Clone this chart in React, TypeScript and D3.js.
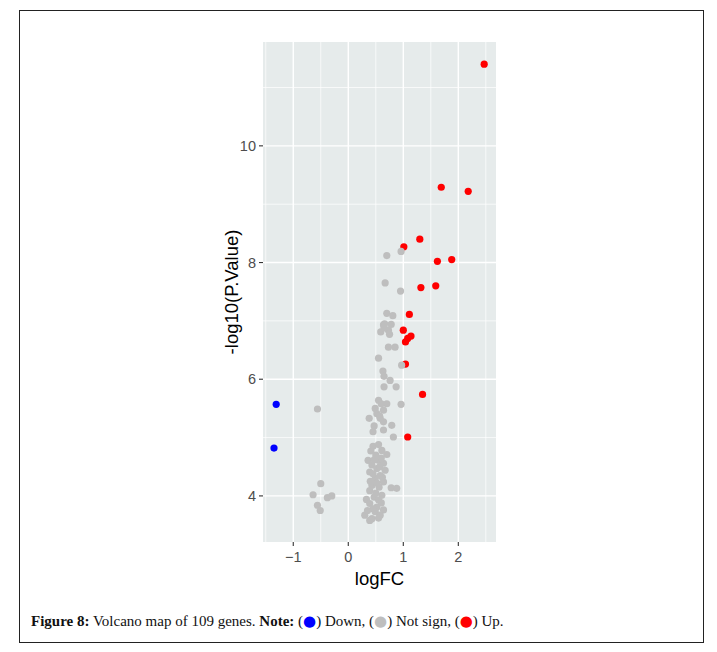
import React from 'react';
import * as d3 from 'd3';

// Volcano plot values
const upX = [2.47, 1.69, 2.18, 1.30, 1.01, 1.62, 1.88, 1.32, 1.59, 1.11, 1.00, 1.14, 1.04, 1.08, 1.04, 1.35, 1.08];
const upY = [11.40, 9.29, 9.22, 8.40, 8.27, 8.02, 8.05, 7.57, 7.60, 7.11, 6.84, 6.74, 6.64, 6.70, 6.26, 5.74, 5.01];

const downX = [-1.31, -1.35];
const downY = [5.57, 4.82];

const nsX = [
  0.70, 0.96, 0.67, 0.95, 0.70, 0.81, 0.64, 0.78, 0.59, 0.73, 0.75, 0.65, 0.73, 0.85, 0.55, 0.97,
  0.63, 0.65, 0.76, 0.65, 0.87, 0.55, 0.70, 0.96, 0.49, 0.64, 0.52, 0.38, 0.58, 0.64, 0.79, 0.45,
  0.64, 0.82, -0.56,
  0.41, 0.61, 0.70, 0.36, 0.55, 0.64, 0.43, 0.52, 0.67, 0.39, 0.58, 0.49, 0.64, 0.43, 0.56, 0.78,
  0.88, 0.39, 0.61, 0.47, 0.33, 0.55, 0.39, 0.52, 0.64, 0.49, 0.30, 0.58, 0.43, 0.39,
  -0.50, -0.64, -0.38, -0.30, -0.56, -0.51,
  0.45, 0.55, 0.50, 0.60, 0.47, 0.57, 0.45, 0.62, 0.52, 0.40, 0.50, 0.60, 0.45, 0.55, 0.35,
  0.57, 0.60, 0.47, 0.66,
];
const nsY = [
  8.12, 8.19, 7.65, 7.51, 7.13, 7.09, 6.93, 6.94, 6.81, 6.84, 6.77, 6.88, 6.55, 6.55, 6.36, 6.24,
  6.14, 6.05, 5.98, 5.87, 5.87, 5.64, 5.58, 5.57, 5.50, 5.47, 5.41, 5.33, 5.33, 5.27, 5.21, 5.10,
  5.13, 5.01, 5.49,
  4.77, 4.78, 4.71, 4.61, 4.61, 4.56, 4.53, 4.47, 4.44, 4.41, 4.35, 4.30, 4.24, 4.18, 4.15, 4.14,
  4.13, 4.09, 4.01, 3.98, 3.94, 3.93, 3.87, 3.81, 3.76, 3.73, 3.67, 3.67, 3.61, 3.58,
  4.21, 4.02, 3.97, 4.00, 3.84, 3.75,
  4.85, 4.88, 4.70, 4.65, 4.62, 4.50, 4.38, 4.32, 4.22, 4.25, 4.05, 3.88, 3.78, 3.62, 3.75,
  5.37, 5.58, 5.20, 6.95,
];

const xTicks = [-1, 0, 1, 2];
const xMinor = [-1.5, -0.5, 0.5, 1.5, 2.5];
const yTicks = [4, 6, 8, 10];
const yMinor = [3, 5, 7, 9, 11];

const panel = { left: 263, right: 496, top: 42, bottom: 542 };

export default function App() {
  const x = d3.scaleLinear().domain([-1.55, 2.685]).range([panel.left, panel.right]);
  const y = d3.scaleLinear().domain([3.21, 11.78]).range([panel.bottom, panel.top]);

  const series = [
    { xs: upX, ys: upY, color: '#ff0000' },
    { xs: nsX, ys: nsY, color: '#bebebe' },
    { xs: downX, ys: downY, color: '#0000ff' },
  ];

  const tickFont = { fontFamily: 'Liberation Sans, Arial, sans-serif', fontSize: 14.5, fill: '#4d4d4d' };
  const titleFont = { fontFamily: 'Liberation Sans, Arial, sans-serif', fontSize: 18.5, fill: '#000' };

  return (
    <svg width={717} height={652} style={{ position: 'absolute', left: 0, top: 0 }}>
      <rect x={0} y={0} width={717} height={652} fill="#fff" />
      <rect x={19.5} y={10.5} width={684} height={632} fill="none" stroke="#222" strokeWidth={1} />

      {/* panel */}
      <rect x={panel.left} y={panel.top} width={panel.right - panel.left} height={panel.bottom - panel.top} fill="#e6ebeb" />
      {xMinor.map(v => (
        <line key={'xm' + v} x1={x(v)} x2={x(v)} y1={panel.top} y2={panel.bottom} stroke="#fff" strokeWidth={0.7} />
      ))}
      {yMinor.map(v => (
        <line key={'ym' + v} x1={panel.left} x2={panel.right} y1={y(v)} y2={y(v)} stroke="#fff" strokeWidth={0.7} />
      ))}
      {xTicks.map(v => (
        <line key={'xg' + v} x1={x(v)} x2={x(v)} y1={panel.top} y2={panel.bottom} stroke="#fff" strokeWidth={1.4} />
      ))}
      {yTicks.map(v => (
        <line key={'yg' + v} x1={panel.left} x2={panel.right} y1={y(v)} y2={y(v)} stroke="#fff" strokeWidth={1.4} />
      ))}

      {/* points */}
      {series.map((s, si) =>
        s.xs.map((xv, i) => (
          <circle key={si + '-' + i} cx={x(xv)} cy={y(s.ys[i])} r={3.6} fill={s.color} />
        ))
      )}

      {/* axes */}
      {xTicks.map(v => (
        <g key={'xt' + v}>
          <line x1={x(v)} x2={x(v)} y1={panel.bottom} y2={panel.bottom + 4} stroke="#333" strokeWidth={1.1} />
          <text x={x(v)} y={panel.bottom + 20} textAnchor="middle" style={tickFont}>
            {v < 0 ? '\u2212' + Math.abs(v) : v}
          </text>
        </g>
      ))}
      {yTicks.map(v => (
        <g key={'yt' + v}>
          <line x1={panel.left - 4} x2={panel.left} y1={y(v)} y2={y(v)} stroke="#333" strokeWidth={1.1} />
          <text x={panel.left - 7} y={y(v) + 5} textAnchor="end" style={tickFont}>{v}</text>
        </g>
      ))}
      <text x={(panel.left + panel.right) / 2} y={585} textAnchor="middle" style={titleFont}>logFC</text>
      <text transform={`translate(238,${(panel.top + panel.bottom) / 2}) rotate(-90)`} textAnchor="middle" style={titleFont}>
        -log10(P.Value)
      </text>

      {/* caption */}
      <text x={31} y={626} style={{ fontFamily: 'Liberation Serif, serif', fontSize: 15, fill: '#111' }}>
        <tspan fontWeight="bold">Figure 8:</tspan>
        <tspan> Volcano map of 109 genes. </tspan>
        <tspan fontWeight="bold">Note:</tspan>
        <tspan> (</tspan>
        <tspan fill="#0000ff" style={{ fontFamily: 'DejaVu Sans' }}>●</tspan>
        <tspan>) Down, (</tspan>
        <tspan fill="#bebebe" style={{ fontFamily: 'DejaVu Sans' }}>●</tspan>
        <tspan>) Not sign, (</tspan>
        <tspan fill="#ff0000" style={{ fontFamily: 'DejaVu Sans' }}>●</tspan>
        <tspan>) Up.</tspan>
      </text>
    </svg>
  );
}
